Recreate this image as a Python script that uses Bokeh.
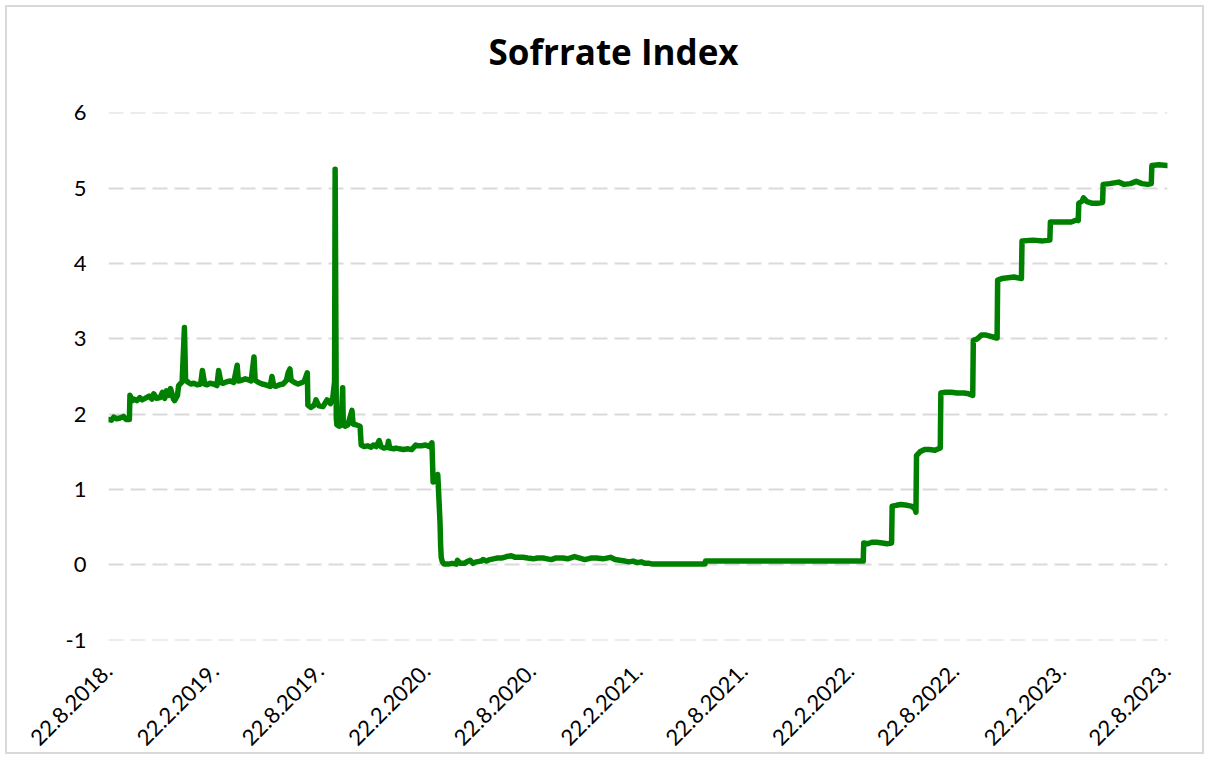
import math
import pandas as pd
from bokeh.plotting import figure
from bokeh.models import Range1d, FixedTicker, Title
from bokeh.embed import file_html
from bokeh.resources import INLINE

TITLE = "Sofrrate Index"

dates = [
    "2018-08-22", "2018-08-27", "2018-08-31", "2018-09-05", "2018-09-11", "2018-09-17",
    "2018-09-21", "2018-09-27", "2018-09-28", "2018-10-02", "2018-10-05", "2018-10-10",
    "2018-10-15", "2018-10-19", "2018-10-24", "2018-10-31", "2018-11-05", "2018-11-08",
    "2018-11-13", "2018-11-19", "2018-11-23", "2018-11-27", "2018-11-30", "2018-12-04",
    "2018-12-07", "2018-12-12", "2018-12-14", "2018-12-19", "2018-12-21", "2018-12-27",
    "2018-12-31", "2019-01-02", "2019-01-07", "2019-01-11", "2019-01-16", "2019-01-22",
    "2019-01-28", "2019-01-31", "2019-02-04", "2019-02-08", "2019-02-13", "2019-02-19",
    "2019-02-25", "2019-02-28", "2019-03-04", "2019-03-08", "2019-03-14", "2019-03-20",
    "2019-03-26", "2019-04-01", "2019-04-03", "2019-04-09", "2019-04-15", "2019-04-19",
    "2019-04-25", "2019-04-30", "2019-05-02", "2019-05-08", "2019-05-14", "2019-05-20",
    "2019-05-28", "2019-05-31", "2019-06-03", "2019-06-07", "2019-06-13", "2019-06-19",
    "2019-06-25", "2019-06-28", "2019-07-01", "2019-07-03", "2019-07-09", "2019-07-15",
    "2019-07-22", "2019-07-26", "2019-07-31", "2019-08-01", "2019-08-06", "2019-08-12",
    "2019-08-15", "2019-08-20", "2019-08-27", "2019-09-03", "2019-09-09", "2019-09-13",
    "2019-09-16", "2019-09-17", "2019-09-19", "2019-09-20", "2019-09-24", "2019-09-27",
    "2019-09-30", "2019-10-01", "2019-10-04", "2019-10-09", "2019-10-16", "2019-10-18",
    "2019-10-23", "2019-10-30", "2019-11-01", "2019-11-06", "2019-11-12", "2019-11-18",
    "2019-11-22", "2019-11-27", "2019-12-02", "2019-12-05", "2019-12-10", "2019-12-16",
    "2019-12-18", "2019-12-20", "2019-12-27", "2019-12-31", "2020-01-06", "2020-01-13",
    "2020-01-21", "2020-01-27", "2020-02-03", "2020-02-07", "2020-02-13", "2020-02-20",
    "2020-02-26", "2020-03-02", "2020-03-04", "2020-03-09", "2020-03-12", "2020-03-13",
    "2020-03-16", "2020-03-17", "2020-03-18", "2020-03-20", "2020-03-23", "2020-03-30",
    "2020-04-06", "2020-04-13", "2020-04-15", "2020-04-20", "2020-04-27", "2020-05-01",
    "2020-05-07", "2020-05-12", "2020-05-18", "2020-05-26", "2020-05-29", "2020-06-04",
    "2020-06-10", "2020-06-16", "2020-06-22", "2020-06-30", "2020-07-09", "2020-07-17",
    "2020-07-24", "2020-07-31", "2020-08-06", "2020-08-14", "2020-08-24", "2020-08-31",
    "2020-09-10", "2020-09-17", "2020-09-24", "2020-10-01", "2020-10-14", "2020-10-22",
    "2020-11-03", "2020-11-12", "2020-11-21", "2020-12-01", "2020-12-11", "2020-12-22",
    "2021-01-04", "2021-01-12", "2021-01-20", "2021-01-29", "2021-02-05", "2021-02-12",
    "2021-02-19", "2021-02-26", "2021-03-05", "2021-03-12", "2021-03-18", "2021-04-15",
    "2021-05-14", "2021-06-16", "2021-06-17", "2021-08-15", "2021-10-15", "2021-12-31",
    "2022-02-15", "2022-03-16", "2022-03-17", "2022-03-24", "2022-03-31", "2022-04-08",
    "2022-04-18", "2022-04-26", "2022-05-04", "2022-05-05", "2022-05-12", "2022-05-20",
    "2022-05-31", "2022-06-07", "2022-06-13", "2022-06-15", "2022-06-16", "2022-06-22",
    "2022-06-30", "2022-07-08", "2022-07-18", "2022-07-27", "2022-07-28", "2022-08-05",
    "2022-08-15", "2022-08-25", "2022-09-06", "2022-09-14", "2022-09-21", "2022-09-22",
    "2022-09-29", "2022-10-06", "2022-10-14", "2022-10-24", "2022-11-01", "2022-11-02",
    "2022-11-03", "2022-11-10", "2022-11-21", "2022-12-01", "2022-12-14", "2022-12-15",
    "2023-01-03", "2023-01-20", "2023-02-01", "2023-02-02", "2023-02-20", "2023-03-10",
    "2023-03-20", "2023-03-22", "2023-03-23", "2023-03-29", "2023-03-31", "2023-04-06",
    "2023-04-14", "2023-04-24", "2023-05-03", "2023-05-04", "2023-05-15", "2023-05-31",
    "2023-06-09", "2023-06-20", "2023-06-30", "2023-07-10", "2023-07-20", "2023-07-26",
    "2023-07-27", "2023-08-08", "2023-08-22",
]

rates = [
    1.93, 1.92, 1.96, 1.94, 1.95, 1.97,
    1.93, 1.93, 2.25, 2.18, 2.20, 2.18,
    2.22, 2.19, 2.21, 2.24, 2.20, 2.27,
    2.21, 2.22, 2.29, 2.21, 2.31, 2.25,
    2.34, 2.20, 2.18, 2.25, 2.38, 2.43,
    3.15, 2.45, 2.42, 2.40, 2.41, 2.39,
    2.40, 2.58, 2.40, 2.39, 2.41, 2.40,
    2.38, 2.58, 2.42, 2.41, 2.43, 2.44,
    2.42, 2.65, 2.44, 2.45, 2.47, 2.46,
    2.44, 2.76, 2.45, 2.42, 2.40, 2.39,
    2.37, 2.50, 2.38, 2.37, 2.39, 2.40,
    2.45, 2.55, 2.60, 2.45, 2.42, 2.40,
    2.42, 2.44, 2.55, 2.12, 2.09, 2.12,
    2.19, 2.11, 2.10, 2.19, 2.14, 2.22,
    2.43, 5.25, 1.95, 1.86, 1.84, 1.85,
    2.35, 1.88, 1.84, 1.86, 2.05, 1.87,
    1.86, 1.84, 1.59, 1.57, 1.58, 1.56,
    1.59, 1.57, 1.65, 1.57, 1.55, 1.56,
    1.64, 1.55, 1.54, 1.55, 1.54, 1.53,
    1.54, 1.53, 1.59, 1.58, 1.58, 1.59,
    1.57, 1.62, 1.10, 1.12, 1.20, 1.05,
    0.55, 0.26, 0.10, 0.04, 0.01, 0.01,
    0.02, 0.01, 0.06, 0.02, 0.02, 0.04,
    0.06, 0.02, 0.04, 0.05, 0.07, 0.05,
    0.07, 0.08, 0.09, 0.09, 0.11, 0.12,
    0.10, 0.10, 0.10, 0.09, 0.08, 0.09,
    0.09, 0.08, 0.07, 0.09, 0.09, 0.08,
    0.11, 0.09, 0.07, 0.09, 0.09, 0.08,
    0.10, 0.07, 0.06, 0.05, 0.04, 0.05,
    0.03, 0.04, 0.02, 0.02, 0.01, 0.01,
    0.01, 0.01, 0.05, 0.05, 0.05, 0.05,
    0.05, 0.05, 0.29, 0.28, 0.30, 0.30,
    0.29, 0.28, 0.29, 0.78, 0.79, 0.80,
    0.79, 0.78, 0.75, 0.70, 1.45, 1.50,
    1.53, 1.53, 1.52, 1.55, 2.28, 2.29,
    2.29, 2.28, 2.28, 2.27, 2.25, 2.98,
    3.00, 3.05, 3.05, 3.03, 3.01, 3.01,
    3.78, 3.80, 3.81, 3.82, 3.80, 4.30,
    4.31, 4.30, 4.31, 4.55, 4.55, 4.55,
    4.58, 4.57, 4.80, 4.83, 4.87, 4.82,
    4.80, 4.80, 4.81, 5.05, 5.06, 5.08,
    5.05, 5.06, 5.09, 5.06, 5.05, 5.06,
    5.30, 5.31, 5.30,
]

tick_dates = [
    "2018-08-22", "2019-02-22", "2019-08-22", "2020-02-22", "2020-08-22", "2021-02-22",
    "2021-08-22", "2022-02-22", "2022-08-22", "2023-02-22", "2023-08-22",
]
tick_labels = [
    "22.8.2018.", "22.2.2019.", "22.8.2019.", "22.2.2020.", "22.8.2020.", "22.2.2021.",
    "22.8.2021.", "22.2.2022.", "22.8.2022.", "22.2.2023.", "22.8.2023.",
]
y_ticks = [-1, 0, 1, 2, 3, 4, 5, 6]
y_labels = ["-1", "0", "1", "2", "3", "4", "5", "6"]

x = pd.to_datetime(dates)
x_start = pd.Timestamp("2018-08-22")
x_end = pd.Timestamp("2023-08-23")

FONT = "Lato"

p = figure(
    width=1199, height=749,
    x_axis_type="datetime",
    x_range=Range1d(x_start, x_end),
    y_range=Range1d(-1.004, 6.004),
    output_backend="svg",
    toolbar_location=None,
    min_border_left=101, min_border_right=39,
    min_border_top=105, min_border_bottom=116,
)
p.margin = (5, 5, 0, 5)
p.styles = {"border": "2px solid #d9d9d9"}
p.outline_line_color = None
p.background_fill_color = "white"
p.border_fill_color = "white"

p.line(x, rates, line_color="#008000", line_width=5.5, line_join="round", line_cap="round")

# grid
p.xgrid.grid_line_color = None
p.ygrid.grid_line_color = "#d9d9d9"
p.ygrid.grid_line_width = 2
p.ygrid.grid_line_dash = "15 7"
p.ygrid.ticker = FixedTicker(ticks=y_ticks)

# y axis
p.yaxis.ticker = FixedTicker(ticks=y_ticks)
p.yaxis.major_label_overrides = {t: lab for t, lab in zip(y_ticks, y_labels)}
p.yaxis.axis_line_color = None
p.yaxis.major_tick_line_color = None
p.yaxis.minor_tick_line_color = None
p.yaxis.major_tick_out = 0
p.yaxis.major_tick_in = 0
p.yaxis.major_label_standoff = 22
p.yaxis.major_label_text_font = FONT
p.yaxis.major_label_text_font_size = "22px"
p.yaxis.major_label_text_color = "#000000"

# x axis
tick_ms = [pd.Timestamp(d).value // 10**6 for d in tick_dates]
p.xaxis.ticker = FixedTicker(ticks=tick_ms)
p.xaxis.major_label_overrides = {t: lab for t, lab in zip(tick_ms, tick_labels)}
p.xaxis.major_label_orientation = math.pi / 4
p.xaxis.axis_line_color = None
p.xaxis.major_tick_line_color = None
p.xaxis.minor_tick_line_color = None
p.xaxis.major_tick_out = 0
p.xaxis.major_tick_in = 0
p.xaxis.major_label_standoff = 27
p.xaxis.major_label_text_font = FONT
p.xaxis.major_label_text_font_size = "22px"
p.xaxis.major_label_text_color = "#000000"

# spacer between the plot area and the title (nearest the frame)
spacer = Title(text=" ", text_font_size="10px", standoff=25, text_color="white")
p.add_layout(spacer, "above")

# title
t = Title(
    text=TITLE, align="left", offset=380, standoff=0,
    text_font="Open Sans", text_font_style="bold", text_font_size="35px",
    text_color="#000000",
)
p.add_layout(t, "above")

open("out.html", "w").write(file_html(p, INLINE))
